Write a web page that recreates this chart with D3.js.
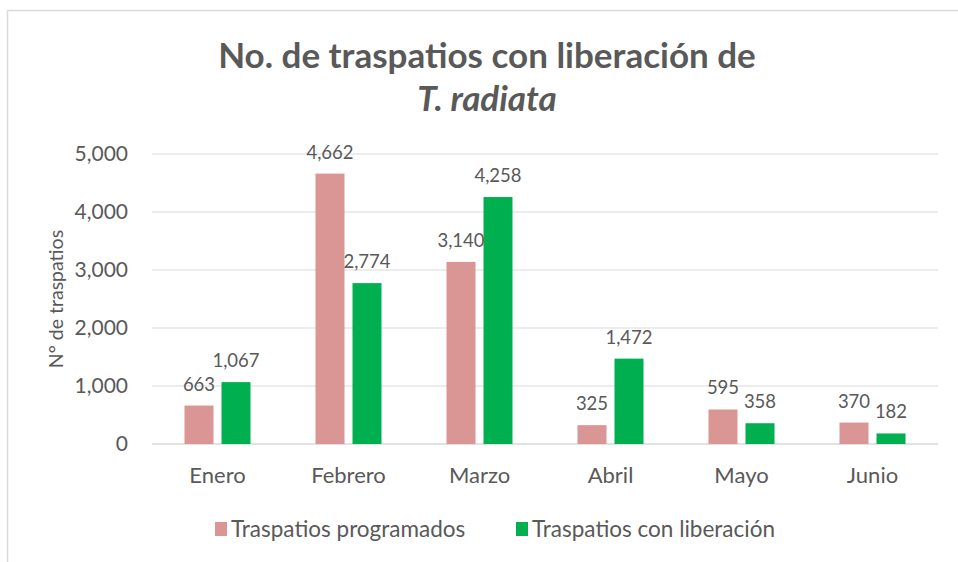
<!DOCTYPE html>
<html>
<head>
<meta charset="utf-8">
<script src="https://cdn.jsdelivr.net/npm/d3@7"></script>
<style>
  body { margin: 0; background: #fff; }
  svg text { font-family: Lato, "Open Sans", sans-serif; fill: #595959; }
</style>
</head>
<body>
<svg id="chart" width="958" height="562"></svg>
<script>
const months = ["Enero", "Febrero", "Marzo", "Abril", "Mayo", "Junio"];
const seriesNames = ["Traspatios programados", "Traspatios con liberación"];
const programados = [663, 4662, 3140, 325, 595, 370];
const conLiberacion = [1067, 2774, 4258, 1472, 358, 182];
const yTicks = [0, 1000, 2000, 3000, 4000, 5000];
const colors = ["#D99694", "#00B050"];

const svg = d3.select("#chart");
const margin = { top: 154, right: 20, bottom: 118, left: 152 };
const width = 958, height = 562;

// chart frame
svg.append("rect")
    .attr("x", 7.5).attr("y", 10.5)
    .attr("width", 960).attr("height", 560)
    .attr("fill", "none")
    .attr("stroke", "#D9D9D9")
    .attr("stroke-width", 1.5);

const x0 = d3.scaleBand()
    .domain(months)
    .range([margin.left, width - margin.right])
    .padding(0);

const groupW = 66;
const x1 = d3.scaleBand()
    .domain(seriesNames)
    .range([(x0.bandwidth() - groupW) / 2, (x0.bandwidth() + groupW) / 2])
    .paddingInner(8 / 37);

const y = d3.scaleLinear()
    .domain([0, 5000])
    .range([height - margin.bottom, margin.top]);

// gridlines
svg.append("g")
    .selectAll("line")
    .data(yTicks)
    .join("line")
    .attr("x1", margin.left)
    .attr("x2", width - margin.right)
    .attr("y1", d => y(d))
    .attr("y2", d => y(d))
    .attr("stroke", "#D9D9D9")
    .attr("stroke-width", d => d === 0 ? 1.5 : 1.2);

// y axis labels
const yAxis = svg.append("g")
    .attr("transform", `translate(${margin.left},0)`)
    .call(d3.axisLeft(y).tickValues(yTicks).tickFormat(d3.format(",")).tickSize(0).tickPadding(24));
yAxis.select(".domain").remove();
yAxis.selectAll("text")
    .style("font-size", "21px")
    .attr("fill", "#595959");

// x axis labels
const xAxis = svg.append("g")
    .attr("transform", `translate(0,${height - margin.bottom})`)
    .call(d3.axisBottom(x0).tickSize(0).tickPadding(23));
xAxis.select(".domain").remove();
xAxis.selectAll("text")
    .style("font-size", "22px")
    .attr("fill", "#595959");

const data = months.map((m, i) => ({
    month: m,
    values: [
        { name: seriesNames[0], value: programados[i], color: colors[0] },
        { name: seriesNames[1], value: conLiberacion[i], color: colors[1] }
    ]
}));

const groups = svg.append("g")
    .selectAll("g")
    .data(data)
    .join("g")
    .attr("transform", d => `translate(${x0(d.month)},0)`);

groups.selectAll("rect")
    .data(d => d.values)
    .join("rect")
    .attr("x", d => x1(d.name))
    .attr("width", x1.bandwidth())
    .attr("y", d => y(d.value))
    .attr("height", d => y(0) - y(d.value))
    .attr("fill", d => d.color);

groups.selectAll(".label")
    .data(d => d.values)
    .join("text")
    .attr("class", "label")
    .attr("x", d => x1(d.name) + x1.bandwidth() / 2)
    .attr("y", d => y(d.value) - 15)
    .attr("text-anchor", "middle")
    .style("font-size", "18.5px")
    .text(d => d3.format(",")(d.value));

// title
const title = svg.append("text")
    .attr("text-anchor", "middle")
    .style("font-size", "35px")
    .style("font-weight", "bold");
title.append("tspan").attr("x", 487).attr("y", 68).text("No. de traspatios con liberación de");
title.append("tspan").attr("x", 487).attr("y", 111).style("font-style", "italic").text("T. radiata");

// y axis title
svg.append("text")
    .attr("transform", `translate(63,${y(2500)}) rotate(-90)`)
    .attr("text-anchor", "middle")
    .style("font-size", "19.5px")
    .text("N° de traspatios");

// legend
const legendItems = [
    { name: seriesNames[0], color: colors[0], x: 215 },
    { name: seriesNames[1], color: colors[1], x: 516 }
];
const legend = svg.append("g");
legend.selectAll("rect")
    .data(legendItems)
    .join("rect")
    .attr("x", d => d.x)
    .attr("y", 522)
    .attr("width", 12)
    .attr("height", 14)
    .attr("fill", d => d.color);
legend.selectAll("text")
    .data(legendItems)
    .join("text")
    .attr("x", d => d.x + 16)
    .attr("y", 537)
    .style("font-size", "22.5px")
    .text(d => d.name);
</script>
</body>
</html>
